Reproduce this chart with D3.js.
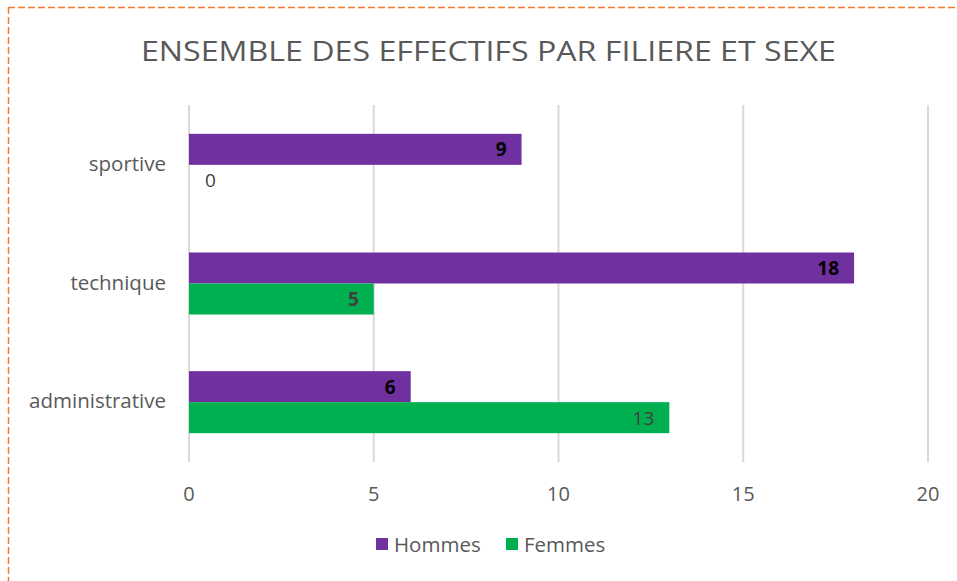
<!DOCTYPE html>
<html>
<head>
<meta charset="utf-8">
<script src="https://cdn.jsdelivr.net/npm/d3@7"></script>
<style>
  body { margin: 0; background: #fff; }
  svg text { font-family: "Open Sans", Lato, sans-serif; }
</style>
</head>
<body>
<svg id="chart" width="957" height="581"></svg>
<script>
// data
var categories = ["sportive", "technique", "administrative"];
var hommes = [9, 18, 6];
var femmes = [0, 5, 13];
var series = ["Hommes", "Femmes"];
var xTicks = [0, 5, 10, 15, 20];

var colors = { Hommes: "#7030A0", Femmes: "#00B050" };

var svg = d3.select("#chart");
var width = +svg.attr("width"),
    height = +svg.attr("height");

// orange dashed frame (top + left)
svg.append("line")
  .attr("x1", 8).attr("y1", 7.5).attr("x2", width).attr("y2", 7.5)
  .attr("stroke", "#ED7D31").attr("stroke-width", 1.5).attr("stroke-dasharray", "7,3");
svg.append("line")
  .attr("x1", 8.5).attr("y1", 7).attr("x2", 8.5).attr("y2", height)
  .attr("stroke", "#ED7D31").attr("stroke-width", 1.5).attr("stroke-dasharray", "7,3");

svg.append("text")
  .attr("x", 141).attr("y", 61)
  .attr("textLength", 695)
  .attr("lengthAdjust", "spacingAndGlyphs")
  .style("font-size", "27px")
  .style("fill", "#595959")
  .text("ENSEMBLE DES EFFECTIFS PAR FILIERE ET SEXE");

var x = d3.scaleLinear().domain([0, 20]).range([189, 928]);
var y = d3.scaleBand().domain(categories).range([105.5, 461.5]).paddingInner(0).paddingOuter(0);
var barH = 31;

// gridlines
svg.append("g").selectAll("line")
  .data(xTicks).enter().append("line")
  .attr("x1", function(d) { return x(d); })
  .attr("x2", function(d) { return x(d); })
  .attr("y1", 105).attr("y2", 462)
  .attr("stroke", "#D9D9D9").attr("stroke-width", 2);

// x tick labels
svg.append("g").selectAll("text")
  .data(xTicks).enter().append("text")
  .attr("x", function(d) { return x(d); })
  .attr("y", 501)
  .attr("text-anchor", "middle")
  .style("font-size", "20px")
  .style("fill", "#595959")
  .text(function(d) { return d; });

// category labels
svg.append("g").selectAll("text")
  .data(categories).enter().append("text")
  .attr("x", 166)
  .attr("y", function(d) { return y(d) + y.bandwidth() / 2 + 6; })
  .attr("text-anchor", "end")
  .style("font-size", "20.5px")
  .style("fill", "#595959")
  .text(function(d) { return d; });

var rows = categories.map(function(c, i) {
  return { cat: c, Hommes: hommes[i], Femmes: femmes[i] };
});

// bars
series.forEach(function(s, si) {
  var g = svg.append("g");
  g.selectAll("rect")
    .data(rows).enter().append("rect")
    .attr("x", x(0))
    .attr("y", function(d) { return y(d.cat) + y.bandwidth() / 2 - barH + si * barH; })
    .attr("width", function(d) { return x(d[s]) - x(0); })
    .attr("height", barH)
    .attr("fill", colors[s]);

  g.selectAll("text")
    .data(rows).enter().append("text")
    .attr("x", function(d) { return d[s] === 0 ? x(0) + 16 : x(d[s]) - 15; })
    .attr("y", function(d) { return y(d.cat) + y.bandwidth() / 2 - barH + si * barH + barH / 2 + 7; })
    .attr("text-anchor", function(d) { return d[s] === 0 ? "start" : "end"; })
    .style("font-size", "19px")
    .style("font-weight", function(d) {
      if (s === "Hommes") return "bold";
      return d.cat === "technique" ? "bold" : "normal";
    })
    .style("fill", function(d) {
      if (s === "Hommes") return "#000";
      return "#404040";
    })
    .text(function(d) { return d[s]; });
});

// legend
var legend = svg.append("g");
var legItems = [{ name: "Hommes", x: 376 }, { name: "Femmes", x: 506 }];
legItems.forEach(function(it) {
  legend.append("rect")
    .attr("x", it.x).attr("y", 538).attr("width", 12).attr("height", 12)
    .attr("fill", colors[it.name]);
  legend.append("text")
    .attr("x", it.x + 18).attr("y", 552)
    .style("font-size", "20.5px")
    .style("fill", "#595959")
    .text(it.name);
});
</script>
</body>
</html>
